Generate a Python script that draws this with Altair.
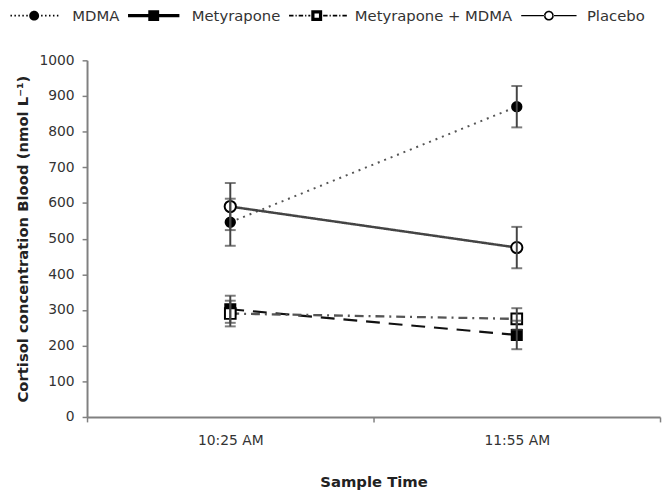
import altair as alt
import pandas as pd

# ---- data ----
series = ["MDMA", "Metyrapone", "Metyrapone + MDMA", "Placebo"]
times = ["10:25 AM", "11:55 AM"]
mdma_mean = [546, 870]
mdma_err = [66, 58]
met_mean = [302, 230]
met_err = [38, 40]
metmdma_mean = [290, 275]
metmdma_err = [36, 30]
placebo_mean = [590, 475]
placebo_err = [66, 58]
y_ticks = [0, 100, 200, 300, 400, 500, 600, 700, 800, 900, 1000]

means = [mdma_mean, met_mean, metmdma_mean, placebo_mean]
errs = [mdma_err, met_err, metmdma_err, placebo_err]
rows = []
for s, m, e in zip(series, means, errs):
    for t, mv, ev in zip(times, m, e):
        rows.append({"series": s, "time": t, "mean": mv, "lo": mv - ev, "hi": mv + ev})
df = pd.DataFrame(rows)

FONT = "DejaVu Sans"

# ---- legend symbols (line + marker) as filled custom paths ----
L = 5.6
def seg(x0, x1, h):
    return f"M{x0:.2f},{-h:.2f}H{x1:.2f}V{h:.2f}H{x0:.2f}Z"

def dotted(a, b, dash, gap, h=0.17):
    out, x = [], a
    while x + dash <= b + 1e-9:
        out.append(seg(x, x + dash, h))
        x += dash + gap
    return "".join(out)

def dashdot(a, b, h=0.17):
    out, x, k = [], a, 0
    pat = [(0.9, 0.4), (0.25, 0.4)]
    while x < b - 1e-9:
        d, g = pat[k % 2]
        d = min(d, b - x)
        out.append(seg(x, x + d, h))
        x += d + g
        k += 1
    return "".join(out)

circle = "M-1,0A1,1 0 1,0 1,0A1,1 0 1,0 -1,0Z"
ring = circle + "M-0.68,0A0.68,0.68 0 1,1 0.68,0A0.68,0.68 0 1,1 -0.68,0Z"
p_mdma = dotted(-L, -1.2, 0.3, 0.5) + dotted(1.4, L, 0.3, 0.5) + circle
p_met = seg(-5.2, 5.2, 0.35) + "M-1.1,-1.1H1.1V1.1H-1.1Z"
p_metmdma = dashdot(-L, -1.3) + dashdot(1.3, L + 0.8) + "M-1.1,-1.1H1.1V1.1H-1.1Z" + "M-0.45,-0.45V0.45H0.45V-0.45Z"
p_placebo = seg(-L, -0.9, 0.14) + seg(0.9, L, 0.14) + ring
legend_paths = [p_mdma, p_met, p_metmdma, p_placebo]

x_axis = alt.Axis(
    title="Sample Time", labelAngle=0, tickBand="extent", tickSize=5,
    labelPadding=12, titlePadding=27,
)
y_axis = alt.Axis(
    title="Cortisol concentration Blood (nmol L⁻¹)",
    values=y_ticks, format="d", labelOverlap=False,
    tickSize=5, labelPadding=8, titlePadding=9, grid=False,
)
x_scale = alt.Scale(type="band", domain=times, paddingInner=0, paddingOuter=0)
y_scale = alt.Scale(domain=[0, 1000], nice=False)

x_enc = alt.X("time:N", scale=x_scale, axis=x_axis)
y_enc = alt.Y("mean:Q", scale=y_scale, axis=y_axis)
y_lo = alt.Y("lo:Q", scale=y_scale, axis=y_axis)
y_hi = alt.Y("hi:Q", scale=y_scale, axis=y_axis)

base = alt.Chart(df)

lines = base.mark_line().encode(
    x=x_enc, y=y_enc,
    detail="series:N",
    stroke=alt.Stroke("series:N", scale=alt.Scale(domain=series, range=["#555555", "#111111", "#555555", "#444444"]), legend=None),
    strokeDash=alt.StrokeDash("series:N", scale=alt.Scale(domain=series, range=[[2, 5], [14, 9], [9, 5, 2, 5], [1, 0]]), legend=None),
    strokeWidth=alt.StrokeWidth("series:N", scale=alt.Scale(domain=series, range=[2, 2.5, 1.8, 1.4]), legend=None),
)

points = base.mark_point(opacity=1, stroke="black", strokeWidth=2).encode(
    x=x_enc, y=y_enc,
    shape=alt.Shape("series:N", scale=alt.Scale(domain=series, range=["circle", "square", "square", "circle"]), legend=None),
    fill=alt.Fill("series:N", scale=alt.Scale(domain=series, range=["black", "black", "white", "white"]), legend=None),
    size=alt.Size("series:N", scale=alt.Scale(domain=series, range=[90, 130, 120, 90]), legend=None),
)

rules = base.mark_rule(color="#444444", strokeWidth=2).encode(
    x=x_enc, y=y_lo, y2="hi:Q"
)
cap_lo = base.mark_tick(color="#444444", size=11, thickness=2).encode(x=x_enc, y=y_lo)
cap_hi = base.mark_tick(color="#444444", size=11, thickness=2).encode(x=x_enc, y=y_hi)

legend_def = alt.Legend(
    title=None, orient="none", direction="horizontal", columns=4,
    legendX=-61, legendY=-53, symbolSize=100, labelOffset=31, columnPadding=8,
    symbolFillColor="black", symbolStrokeColor="black", symbolStrokeWidth=0,
    labelFont=FONT, labelFontSize=15, labelColor="#333333", symbolOpacity=1,
)
legend_layer = base.transform_filter("false").mark_point(opacity=1, filled=True, color="black").encode(
    x=x_enc, y=y_enc,
    shape=alt.Shape("series:N", scale=alt.Scale(domain=series, range=legend_paths), legend=legend_def),
)

chart = alt.layer(lines, points, rules, cap_lo, cap_hi, legend_layer).resolve_scale(
    shape="independent", fill="independent"
).properties(
    width=580, height=361,
    autosize=alt.AutoSizeParams(type="none"),
    padding={"left": 80, "top": 50, "right": 2, "bottom": 75},
).configure_view(stroke=None).configure_axis(
    labelFont=FONT, labelFontSize=14, labelColor="#333333",
    titleFont=FONT, titleFontSize=15, titleFontWeight="bold", titleColor="#222222",
    domainColor="#808080", domainWidth=2, tickColor="#808080", tickWidth=1.5,
)

chart.save("out.html", embed_options={"renderer": "svg", "actions": False})
